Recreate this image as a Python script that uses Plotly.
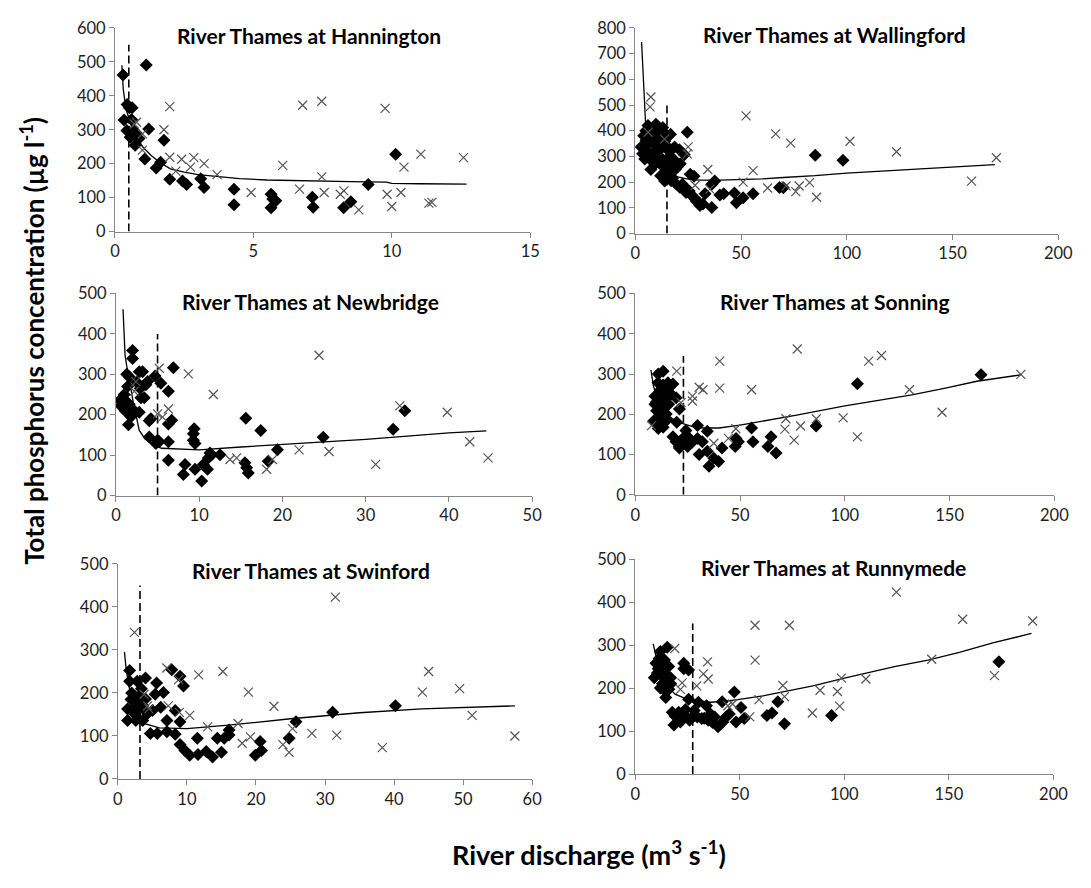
import plotly.graph_objects as go

# ---------------- DATA ----------------
# Hannington
hann_qd = [0.29, 0.33, 0.44, 0.52, 0.62, 0.43, 0.52, 0.67, 0.73, 0.87, 1.13, 1.22, 1.08, 1.49, 1.65, 1.77,
           1.98, 2.44, 2.59, 3.1, 3.22, 4.3, 4.3, 5.64, 5.7, 5.81, 5.64, 7.13, 7.16, 8.26, 8.52, 9.15, 10.14,
           0.55, 0.8, 0.6]
hann_pd = [461, 329, 374, 365, 365, 298, 293, 298, 254, 274, 491, 302, 214, 187, 204, 269,
           154, 149, 139, 156, 130, 125, 79, 110, 96, 91, 70, 101, 72, 70, 88, 139, 228,
           278, 288, 330]
hann_qx = [0.7, 0.78, 0.99, 0.99, 1.98, 1.77, 1.98, 2.2, 2.41, 2.73, 2.85, 3.22, 3.69, 4.92, 6.06, 6.67, 6.78,
           7.47, 7.47, 7.56, 8.14, 8.27, 8.81, 9.76, 9.83, 10.0, 10.33, 10.44, 11.05, 11.34, 11.45, 12.59]
hann_px = [317, 322, 288, 240, 368, 300, 219, 178, 213, 190, 218, 200, 168, 115, 195, 125, 372,
           384, 161, 115, 110, 120, 64, 363, 110, 74, 115, 190, 228, 84, 86, 218]
hann_fq = [0.25, 0.3, 0.4, 0.6, 0.8, 1.0, 1.3, 1.6, 2.0, 2.5, 3.0, 3.7, 4.5, 5.5, 6.5, 7.5, 8.5, 9.8, 10.0, 11.0, 12.7]
hann_fp = [490, 420, 360, 310, 275, 250, 225, 205, 185, 175, 168, 162, 156, 152, 150, 148, 147, 146, 142, 141, 140]
hann_thr = [0.5, 550]

# Wallingford
wall_qd = [2.8, 7.4, 6, 9.8, 13, 8.4, 11.6, 14.4, 5.1, 9.3, 12.1, 16.7, 18.6, 7, 9.8, 13, 16.2, 24.6, 20.9,
           23.2, 21.3, 20, 14.4, 16.2, 13.9, 17.6, 19, 22.3, 23.7, 25.5, 26.9, 28.3, 30.2, 30.6, 26, 27.8,
           36.2, 33, 37.6, 36.2, 41.8, 46.9, 47.8, 51, 55.7, 68.2, 70, 85.1, 98.2,
           4, 5, 6, 7, 8, 9, 10, 11, 12, 14, 15, 3.5, 4.5, 6, 8, 10, 12, 14, 17, 19, 16, 18, 10, 5,
           15, 17, 12, 21, 24, 27, 29, 32, 40]
wall_pd = [337, 249, 420, 425, 413, 386, 375, 386, 363, 344, 330, 386, 337, 310, 299, 288, 299, 394, 326,
           307, 272, 261, 242, 231, 204, 215, 196, 192, 177, 166, 147, 135, 120, 109, 231, 223,
           101, 155, 204, 192, 155, 158, 120, 139, 155, 179, 178, 305, 285,
           380, 400, 350, 380, 355, 400, 360, 395, 350, 360, 340, 310, 290, 300, 280, 275, 270, 280, 270,
           250, 320, 290, 320, 320,
           255, 205, 225, 180, 160, 145, 125, 115, 150]
wall_qx = [7.4, 7.0, 6.1, 13.9, 25, 24.6, 34.3, 28.3, 35.3, 52.4, 55.7, 51, 62.6, 66.4, 71.3, 73.5, 75.9,
           77.5, 82.4, 85.7, 101.5, 123.5, 159, 170.7]
wall_px = [531, 493, 394, 367, 337, 310, 249, 188, 173, 458, 245, 200, 177, 388, 185, 352, 163,
           185, 198, 141, 359, 318, 204, 295]
wall_fq = [3, 3.7, 5, 6, 8, 10, 13, 16, 20, 25, 30, 40, 50, 60, 70, 85, 100, 130, 170]
wall_fp = [745, 640, 410, 370, 330, 300, 270, 245, 220, 212, 208, 208, 210, 213, 218, 225, 235, 250, 268]
wall_thr = [15, 500]

# Newbridge
newb_qd = [0.8, 0.6, 1.2, 1.6, 1.0, 1.4, 1.6, 2.0, 2.0, 1.5, 2.2, 2.8, 3.0, 2.8, 3.2, 3.6, 3.4, 4.0, 3.8, 4.2,
           4.0, 4.8, 5.0, 4.7, 5.4, 5.2, 6.3, 6.3, 6.7, 6.3, 6.3, 6.9, 8.3, 8.1, 9.3, 9.4, 9.3, 9.5, 9.5,
           10.5, 10.3, 11.1, 11.3, 11.0, 11.5, 12.5, 15.6, 15.5, 15.7, 15.9, 17.4, 18.3, 19.4, 24.9, 33.3, 34.7,
           0.5, 1.1, 1.8, 2.5, 2.9, 1.3]
newb_pd = [242, 222, 234, 226, 250, 270, 294, 359, 339, 175, 210, 206, 242, 306, 306, 274, 242, 185, 282, 190,
           145, 129, 137, 296, 278, 133, 258, 177, 186, 133, 87, 316, 77, 52, 153, 165, 137, 129, 65,
           77, 36, 93, 105, 65, 101, 101, 191, 81, 69, 56, 161, 85, 113, 144, 164, 210,
           235, 210, 195, 280, 265, 300]
newb_qx = [2.4, 2.2, 5.2, 5.0, 5.6, 6.3, 8.7, 11.7, 13.7, 14.5, 18.1, 18.8, 22, 24.4, 25.6, 31.2, 34.1, 39.8,
           42.5, 44.7]
newb_px = [282, 258, 315, 202, 194, 214, 301, 250, 89, 93, 65, 89, 113, 347, 109, 77, 222, 206,
           133, 93]
newb_fq = [0.85, 1.0, 1.1, 1.3, 1.6, 2.0, 2.8, 3.5, 4.5, 5.5, 7, 10, 15, 20, 25, 30, 35, 40, 44.5]
newb_fp = [461, 400, 347, 320, 290, 240, 161, 140, 125, 117, 116, 113, 120, 126, 133, 139, 147, 155, 160]
newb_thr = [5, 400]

# Sonning
sonn_qd = [13.3, 10.9, 13.3, 15.6, 18, 9.4, 11.7, 14, 16.4, 9.4, 11.7, 14, 10.2, 12.5, 14.8, 8.9, 10.9, 13.3,
           19.5, 21.1, 19.8, 18, 19.5, 21.1, 22.7, 24.2, 25, 29.7, 29.7, 30.5, 32, 34.4, 34.4, 35.2, 37.5,
           39.8, 41.4, 48.1, 47.7, 49.2, 55.5, 56.2, 63.3, 64.8, 67.2, 86.3, 106, 165,
           11, 12, 15, 17, 10, 13, 16, 12, 15, 11, 21, 23, 25, 27]
sonn_pd = [307, 278, 273, 278, 275, 245, 241, 241, 253, 225, 225, 221, 209, 205, 201, 184, 176, 168,
           241, 213, 180, 144, 132, 116, 140, 160, 120, 172, 140, 100, 132, 158, 108, 71, 91,
           83, 116, 140, 120, 132, 166, 132, 120, 144, 104, 171, 276, 298,
           300, 260, 258, 250, 230, 230, 225, 190, 185, 165, 120, 135, 145, 130]
sonn_qx = [7.8, 19.8, 21.9, 27.3, 27.3, 30.5, 32.3, 37.5, 40.3, 40.3, 44.5, 48, 55.5, 71.4, 71.9, 75.8,
           77.3, 78.9, 86.4, 99.2, 106, 111.4, 117.5, 130.8, 146.4, 184]
sonn_px = [172, 307, 229, 245, 233, 267, 261, 128, 332, 265, 140, 164, 261, 163, 189, 136,
           362, 171, 189, 191, 144, 332, 346, 261, 205, 299]
sonn_fq = [7.5, 8.6, 10, 12, 15, 18, 22, 27, 32, 40, 50, 62, 77, 100, 116, 132, 148, 163, 184]
sonn_fp = [310, 273, 245, 220, 200, 188, 178, 170, 166, 166, 173, 184, 198, 221, 235, 248, 265, 282, 298]
sonn_thr = [23, 345]

# Swinford
swin_qd = [1.4, 1.7, 1.7, 1.4, 2.1, 2.4, 2.6, 2.8, 3.1, 3.1, 3.6, 3.6, 4.0, 4.0, 4.3, 4.7, 5.0, 5.6, 5.7, 5.4,
           6.2, 6.6, 7.1, 7.1, 7.8, 8.3, 8.3, 9.0, 9.0, 9.0, 9.5, 9.7, 10.4, 11.5, 11.6, 12.8, 13.7, 14.4,
           15.0, 15.4, 16.1, 16.1, 19.9, 20.6, 20.8, 24.8, 25.8, 31.1, 40.2,
           2.0, 2.7, 3.4, 1.9, 2.5]
swin_pd = [163, 227, 252, 136, 163, 182, 136, 227, 193, 163, 170, 136, 235, 186, 152, 106, 159, 223, 106, 197,
           167, 201, 136, 110, 254, 159, 104, 239, 80, 133, 216, 66, 55, 95, 57, 64, 51, 95,
           62, 95, 114, 102, 55, 87, 66, 95, 133, 155, 170,
           200, 175, 210, 185, 150]
swin_qx = [2.4, 3.8, 4.3, 4.5, 7.1, 7.3, 8.8, 8.9, 10.4, 11.7, 13.0, 15.2, 17.4, 18.0, 18.9, 19.2, 22.6, 23.9,
           24.8, 25.3, 28.1, 31.5, 31.7, 38.3, 44.1, 45.0, 49.5, 51.3, 57.5]
swin_px = [341, 197, 170, 163, 258, 170, 231, 155, 148, 242, 121, 250, 129, 83, 202, 98, 169, 80,
           62, 117, 106, 423, 102, 73, 202, 250, 210, 148, 100]
swin_fq = [0.95, 1.2, 1.6, 2.2, 3, 4, 6, 10, 16, 25, 35, 44, 57.5]
swin_fp = [295, 255, 215, 180, 150, 128, 119, 117, 125, 140, 154, 163, 170]
swin_thr = [3.2, 450]

# Runnymede
runn_qd = [9.9, 9.1, 11.4, 12.2, 10.6, 13.0, 15.3, 13.8, 14.6, 16.9, 16.1, 17.7, 18.5, 20.8, 21.6, 23.2, 23.2,
           25.5, 24.7, 25.5, 28.2, 29.7, 30.2, 31.8, 34.1, 34.9, 38.0, 39.6, 41.6, 41.9, 43.4, 47.4, 48.2,
           50.6, 52.1, 63.0, 65.4, 68.2, 71.4, 93.9, 173.9,
           12, 14, 11, 13, 15, 16, 14, 12, 17, 19, 22, 24, 26, 28, 33, 36, 45, 37]
runn_pd = [258, 224, 269, 246, 235, 227, 295, 212, 178, 224, 197, 144, 114, 144, 121, 258, 245,
           242, 133, 174, 148, 133, 167, 129, 159, 125, 133, 110, 168, 121, 133, 191, 121,
           155, 129, 136, 142, 168, 117, 136, 261,
           285, 265, 245, 210, 230, 250, 195, 200, 210, 135, 140, 150, 125, 135, 130, 140, 140, 120]
runn_qx = [18.9, 22.4, 21.6, 29.4, 32.6, 34.6, 34.9, 44.3, 46.6, 54.8, 57.3, 57.3, 59.2, 70.6, 71.4, 73.7,
           84.7, 88.4, 96.7, 97.8, 98.6, 110.3, 124.9, 141.8, 156.6, 171.8, 190.1]
runn_px = [292, 212, 197, 205, 233, 261, 221, 159, 163, 133, 346, 265, 173, 206, 180, 346,
           142, 195, 192, 158, 223, 221, 423, 267, 360, 229, 356]
runn_fq = [8.6, 9.9, 11, 13, 16, 19, 23, 27, 31, 36, 42, 49, 61, 75, 85, 100, 124, 140, 155, 171, 189.5]
runn_fp = [303, 273, 250, 225, 202, 186, 178, 172, 169, 167, 169, 173, 182, 195, 205, 223, 250, 265, 283, 305, 327]
runn_thr = [27.5, 350]

titles = ["River Thames at Hannington", "River Thames at Wallingford", "River Thames at Newbridge",
          "River Thames at Sonning", "River Thames at Swinford", "River Thames at Runnymede"]
x_ranges = [[0, 15], [0, 200], [0, 50], [0, 200], [0, 60], [0, 200]]
x_dticks = [5, 50, 10, 50, 10, 50]
y_ranges = [[0, 600], [0, 800], [0, 500], [0, 500], [0, 500], [0, 500]]
y_label = "Total phosphorus concentration (µg l<sup>-1</sup>)"
x_label = "River discharge (m<sup>3</sup> s<sup>-1</sup>)"

sites = [
    (hann_qd, hann_pd, hann_qx, hann_px, hann_fq, hann_fp, hann_thr),
    (wall_qd, wall_pd, wall_qx, wall_px, wall_fq, wall_fp, wall_thr),
    (newb_qd, newb_pd, newb_qx, newb_px, newb_fq, newb_fp, newb_thr),
    (sonn_qd, sonn_pd, sonn_qx, sonn_px, sonn_fq, sonn_fp, sonn_thr),
    (swin_qd, swin_pd, swin_qx, swin_px, swin_fq, swin_fp, swin_thr),
    (runn_qd, runn_pd, runn_qx, runn_px, runn_fq, runn_fp, runn_thr),
]

# ---------------- LAYOUT (pixel boxes of each plot area) ----------------
W, H = 1091, 888
boxes = [  # (left, right, top, bottom) in px
    (112, 535, 18.3, 226.7),
    (642, 1073, 18.3, 228.7),
    (113, 537, 290, 496.7),
    (642, 1069, 290, 496),
    (115, 537, 566.7, 786.7),
    (642, 1068, 561.7, 781.7),
]
title_pos = [(310, 26), (845, 25), (311, 298), (845, 298), (312, 573), (844, 570)]

FONT = "Lato"
AXC = "#868686"
TXT = "#1e1e1e"

fig = go.Figure()
layout = dict(
    width=W, height=H, margin=dict(l=0, r=0, t=0, b=0),
    paper_bgcolor="white", plot_bgcolor="white", showlegend=False,
    font=dict(family=FONT, color=TXT),
)
annotations = []

for i, (qd, pd_, qx, px, fq, fp, thr) in enumerate(sites):
    n = i + 1
    xa = "x" if n == 1 else f"x{n}"
    ya = "y" if n == 1 else f"y{n}"
    l, r, t, b = boxes[i]
    layout[f"xaxis{'' if n == 1 else n}"] = dict(
        domain=[l / W, r / W], anchor=ya, range=x_ranges[i], dtick=x_dticks[i], tick0=0,
        showline=True, linecolor=AXC, linewidth=1, ticks="outside", ticklen=5, tickcolor=AXC,
        showgrid=False, zeroline=False, tickfont=dict(size=16.5, family=FONT, color=TXT), fixedrange=True,
    )
    layout[f"yaxis{'' if n == 1 else n}"] = dict(
        domain=[1 - b / H, 1 - t / H], anchor=xa, range=y_ranges[i], dtick=100, tick0=0,
        showline=True, linecolor=AXC, linewidth=1, ticks="outside", ticklen=5, tickcolor=AXC,
        showgrid=False, zeroline=False, tickfont=dict(size=16.5, family=FONT, color=TXT), fixedrange=True,
    )
    # threshold dashed line
    fig.add_trace(go.Scatter(x=[thr[0], thr[0]], y=[0, thr[1]], mode="lines", xaxis=xa, yaxis=ya,
                             line=dict(color="black", width=1.6, dash="8px,4px"), hoverinfo="skip"))
    # fitted line
    fig.add_trace(go.Scatter(x=fq, y=fp, mode="lines", xaxis=xa, yaxis=ya,
                             line=dict(color="black", width=1.3), hoverinfo="skip"))
    # diamonds
    fig.add_trace(go.Scatter(x=qd, y=pd_, mode="markers", xaxis=xa, yaxis=ya,
                             marker=dict(symbol="diamond", size=10, color="black",
                                         line=dict(width=0))))
    # crosses
    fig.add_trace(go.Scatter(x=qx, y=px, mode="markers", xaxis=xa, yaxis=ya,
                             marker=dict(symbol="x-thin", size=9, color="#555555",
                                         line=dict(width=1.2, color="#555555"))))
    tx, ty = title_pos[i]
    annotations.append(dict(text=f"<b>{titles[i]}</b>", x=tx / W, y=1 - ty / H, xref="paper", yref="paper",
                            showarrow=False, xanchor="center", yanchor="middle",
                            font=dict(size=21, family=FONT, color="black")))

annotations.append(dict(text=f"<b>{y_label}</b>", x=28 / W, y=1 - 338 / H, xref="paper", yref="paper",
                        showarrow=False, textangle=-90, xanchor="center", yanchor="middle",
                        font=dict(size=26, family=FONT, color="black")))
annotations.append(dict(text=f"<b>{x_label}</b>", x=595 / W, y=1 - 862 / H, xref="paper", yref="paper",
                        showarrow=False, xanchor="center", yanchor="middle",
                        font=dict(size=27, family=FONT, color="black")))
layout["annotations"] = annotations
fig.update_layout(**layout)
fig.write_html("out.html")
